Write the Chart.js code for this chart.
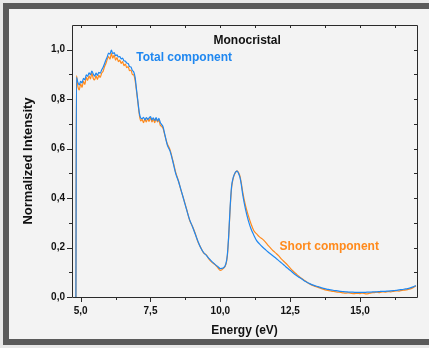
<!DOCTYPE html>
<html>
<head>
<meta charset="utf-8">
<script src="https://cdn.jsdelivr.net/npm/chart.js@4.4.1/dist/chart.umd.min.js"></script>
<style>
  html, body { margin: 0; padding: 0; }
  body { width: 429px; height: 348px; background: #e8e8e8; position: relative; overflow: hidden; }
  .panel { position: absolute; left: 3px; top: 3px; width: 460px; height: 330px; border: 6px solid #5a5a5a; background: #f3f3f3; }
  #spectrum { position: absolute; left: 0; top: 0; }
</style>
</head>
<body>
<div class="panel"></div>
<canvas id="spectrum" width="429" height="348"></canvas>
<script>
// Photon energy (eV)
const energy = [
  4.83,
  4.85, 4.90, 4.95, 5.00, 5.05, 5.10, 5.15, 5.20, 5.25, 5.30,
  5.35, 5.40, 5.45, 5.50, 5.55, 5.60, 5.65, 5.70, 5.75, 5.80,
  5.85, 5.90, 5.95, 6.00, 6.05, 6.10, 6.15, 6.20, 6.25, 6.30,
  6.35, 6.40, 6.45, 6.50, 6.55, 6.60, 6.65, 6.70, 6.75, 6.80,
  6.85, 6.90, 6.95, 7.00, 7.05, 7.10, 7.15, 7.20, 7.25, 7.30,
  7.35, 7.40, 7.45, 7.50, 7.55, 7.60, 7.65, 7.70, 7.75, 7.80,
  7.85, 7.90, 7.95, 8.00,
  8.1, 8.2, 8.3, 8.4, 8.5, 8.6, 8.7, 8.8, 8.9,
  9.0, 9.1, 9.2, 9.3, 9.4, 9.5, 9.6, 9.7, 9.8, 9.9,
  10.0, 10.1, 10.2, 10.25, 10.3, 10.35, 10.4, 10.45, 10.5, 10.55,
  10.6, 10.65, 10.7, 10.75, 10.8, 10.9,
  11.0, 11.1, 11.2, 11.3, 11.4, 11.5, 11.6, 11.7, 11.8, 11.9,
  12.0, 12.1, 12.2, 12.3, 12.4, 12.5, 12.6, 12.7, 12.8, 12.9,
  13.0, 13.1, 13.2, 13.3, 13.4, 13.5, 13.6, 13.7, 13.8, 13.9,
  14.0, 14.1, 14.2, 14.3, 14.4, 14.5, 14.6, 14.7, 14.8, 14.9,
  15.0, 15.1, 15.2, 15.3, 15.4, 15.5, 15.6, 15.7, 15.8, 15.9,
  16.0, 16.1, 16.2, 16.3, 16.4, 16.5, 16.6, 16.7, 16.8, 16.9,
  17.0
];

// Total component, normalized
const totalComponent = [
  0.0,
  0.888, 0.868, 0.858, 0.872, 0.866, 0.884, 0.879, 0.898, 0.893, 0.906,
  0.899, 0.914, 0.902, 0.893, 0.905, 0.896, 0.909, 0.905, 0.918, 0.928,
  0.942, 0.958, 0.971, 0.986, 0.982, 0.998, 0.984, 0.988, 0.976, 0.979,
  0.971, 0.972, 0.963, 0.966, 0.955, 0.954, 0.946, 0.944, 0.932, 0.930,
  0.916, 0.910, 0.888, 0.838, 0.790, 0.745, 0.724, 0.721, 0.727, 0.716,
  0.726, 0.718, 0.724, 0.730, 0.716, 0.725, 0.714, 0.726, 0.712, 0.722,
  0.706, 0.697, 0.688, 0.664,
  0.615, 0.590, 0.548, 0.500, 0.468, 0.430, 0.390, 0.350, 0.313,
  0.285, 0.255, 0.225, 0.198, 0.180, 0.168, 0.155, 0.143, 0.133, 0.124,
  0.115, 0.117, 0.135, 0.170, 0.250, 0.362, 0.445, 0.478, 0.496, 0.506,
  0.509, 0.500, 0.485, 0.455, 0.415, 0.355,
  0.310, 0.275, 0.250, 0.228, 0.215, 0.203, 0.193, 0.183, 0.174, 0.165,
  0.156, 0.146, 0.137, 0.127, 0.117, 0.108, 0.098, 0.089, 0.081, 0.074,
  0.066, 0.060, 0.054, 0.049, 0.045, 0.042, 0.038, 0.035, 0.032, 0.030,
  0.028, 0.026, 0.025, 0.023, 0.022, 0.021, 0.020, 0.020, 0.019, 0.019,
  0.019, 0.019, 0.019, 0.020, 0.020, 0.021, 0.021, 0.022, 0.023, 0.023,
  0.024, 0.025, 0.026, 0.027, 0.029, 0.030, 0.032, 0.034, 0.037, 0.041,
  0.046
];

// Short component, normalized
const shortComponent = [
  0.0,
  0.895, 0.852, 0.838, 0.862, 0.848, 0.872, 0.860, 0.888, 0.876, 0.894,
  0.882, 0.905, 0.884, 0.878, 0.894, 0.880, 0.896, 0.888, 0.905, 0.912,
  0.930, 0.943, 0.960, 0.972, 0.962, 0.985, 0.966, 0.978, 0.958, 0.968,
  0.952, 0.958, 0.945, 0.952, 0.936, 0.942, 0.928, 0.932, 0.915, 0.918,
  0.900, 0.898, 0.875, 0.832, 0.786, 0.738, 0.712, 0.718, 0.705, 0.720,
  0.708, 0.722, 0.710, 0.726, 0.708, 0.720, 0.705, 0.722, 0.708, 0.715,
  0.695, 0.690, 0.682, 0.660,
  0.620, 0.595, 0.552, 0.505, 0.470, 0.428, 0.392, 0.352, 0.310,
  0.286, 0.258, 0.222, 0.200, 0.178, 0.170, 0.152, 0.140, 0.132, 0.120,
  0.108, 0.115, 0.132, 0.165, 0.245, 0.355, 0.438, 0.475, 0.494, 0.505,
  0.510, 0.503, 0.490, 0.462, 0.425, 0.370,
  0.330, 0.295, 0.268, 0.255, 0.243, 0.235, 0.224, 0.210, 0.198, 0.186,
  0.176, 0.165, 0.152, 0.141, 0.130, 0.117, 0.105, 0.095, 0.085, 0.076,
  0.068, 0.060, 0.053, 0.047, 0.043, 0.039, 0.035, 0.031, 0.028, 0.026,
  0.023, 0.022, 0.020, 0.019, 0.017, 0.016, 0.017, 0.015, 0.014, 0.015,
  0.014, 0.016, 0.013, 0.014, 0.017, 0.018, 0.020, 0.018, 0.021, 0.020,
  0.022, 0.021, 0.023, 0.025, 0.024, 0.027, 0.028, 0.030, 0.033, 0.038,
  0.045
];

const xTicks = [5, 6.25, 7.5, 8.75, 10, 11.25, 12.5, 13.75, 15, 16.25];
const yTicks = [0, 0.1, 0.2, 0.3, 0.4, 0.5, 0.6, 0.7, 0.8, 0.9, 1.0];

const BLUE = '#1f87f0';
const ORANGE = '#ff8a1c';
const INK = '#2a2a2a';

const toPoints = (ys) => ys.map((y, i) => ({ x: energy[i], y: y }));
const comma = (v) => v.toFixed(1).replace('.', ',');

// frame around the plot, tick marks (out on left/bottom, in on top/right) and the text labels
const framePlugin = {
    id: 'frame',
    afterDatasetsDraw(chart) {
        const { ctx, chartArea: a, scales: { x, y } } = chart;
        ctx.save();
        ctx.strokeStyle = INK;
        ctx.lineWidth = 1;
        ctx.beginPath();
        ctx.rect(Math.round(a.left) + 0.5, Math.round(a.top) + 0.5,
                 Math.round(a.right - a.left), Math.round(a.bottom - a.top));
        ctx.stroke();

        ctx.beginPath();
        xTicks.forEach(v => {
            const px = Math.round(x.getPixelForValue(v)) + 0.5;
            const major = v % 2.5 === 0;
            ctx.moveTo(px, a.bottom);
            ctx.lineTo(px, a.bottom + (major ? 5 : 3));
            ctx.moveTo(px, a.top);
            ctx.lineTo(px, a.top + 3);
        });
        yTicks.forEach(v => {
            const py = Math.round(y.getPixelForValue(v)) + 0.5;
            const major = Math.round(v * 10) % 2 === 0;
            ctx.moveTo(a.left, py);
            ctx.lineTo(a.left - (major ? 5 : 3), py);
            ctx.moveTo(a.right, py);
            ctx.lineTo(a.right - 3, py);
        });
        ctx.stroke();

        ctx.font = 'bold 12px "Liberation Sans", Arial, sans-serif';
        ctx.textBaseline = 'middle';
        ctx.textAlign = 'center';
        ctx.fillStyle = '#111';
        ctx.fillText('Monocristal', x.getPixelForValue(10.96), y.getPixelForValue(1.036));
        ctx.textAlign = 'left';
        ctx.fillStyle = BLUE;
        ctx.fillText('Total component', x.getPixelForValue(6.99), y.getPixelForValue(0.969));
        ctx.fillStyle = ORANGE;
        ctx.fillText('Short component', x.getPixelForValue(12.12), y.getPixelForValue(0.203));
        ctx.restore();
    }
};

const ctx = document.getElementById('spectrum').getContext('2d');
new Chart(ctx, {
    type: 'line',
    data: {
        datasets: [
            {
                label: 'Total component',
                data: toPoints(totalComponent),
                borderColor: BLUE,
                borderWidth: 1.2,
                pointRadius: 0,
                cubicInterpolationMode: 'monotone'
            },
            {
                label: 'Short component',
                data: toPoints(shortComponent),
                borderColor: ORANGE,
                borderWidth: 1.2,
                pointRadius: 0,
                cubicInterpolationMode: 'monotone'
            }
        ]
    },
    options: {
        responsive: false,
        animation: false,
        layout: { padding: { left: 0, right: 12, top: 25, bottom: 0 } },
        plugins: {
            legend: { display: false },
            tooltip: { enabled: false }
        },
        scales: {
            x: {
                type: 'linear',
                min: 4.69,
                max: 17.04,
                afterFit: (s) => { s.height = 51; },
                afterBuildTicks: (s) => { s.ticks = xTicks.map(v => ({ value: v })); },
                grid: { display: false, drawTicks: false },
                border: { display: false },
                ticks: {
                    autoSkip: false,
                    maxRotation: 0,
                    padding: 8,
                    color: '#111',
                    font: { family: '"Liberation Sans", Arial, sans-serif', size: 10, weight: 'bold' },
                    callback: (v) => (v % 2.5 === 0 ? comma(v) : '')
                },
                title: {
                    display: true,
                    text: 'Energy (eV)',
                    color: '#111',
                    padding: { top: 0, bottom: 10 },
                    font: { family: '"Liberation Sans", Arial, sans-serif', size: 12, weight: 'bold' }
                }
            },
            y: {
                min: 0,
                max: 1.1,
                afterFit: (s) => { s.width = 72; },
                afterBuildTicks: (s) => { s.ticks = yTicks.map(v => ({ value: v })); },
                grid: { display: false, drawTicks: false },
                border: { display: false },
                ticks: {
                    autoSkip: false,
                    padding: 7,
                    color: '#111',
                    font: { family: '"Liberation Sans", Arial, sans-serif', size: 10, weight: 'bold' },
                    callback: (v) => (Math.round(v * 10) % 2 === 0 ? comma(v) : '')
                },
                title: {
                    display: true,
                    text: 'Normalized Intensity',
                    color: '#111',
                    padding: { top: 21, bottom: 0 },
                    font: { family: '"Liberation Sans", Arial, sans-serif', size: 13, weight: 'bold' }
                }
            }
        }
    },
    plugins: [framePlugin]
});
</script>
</body>
</html>
